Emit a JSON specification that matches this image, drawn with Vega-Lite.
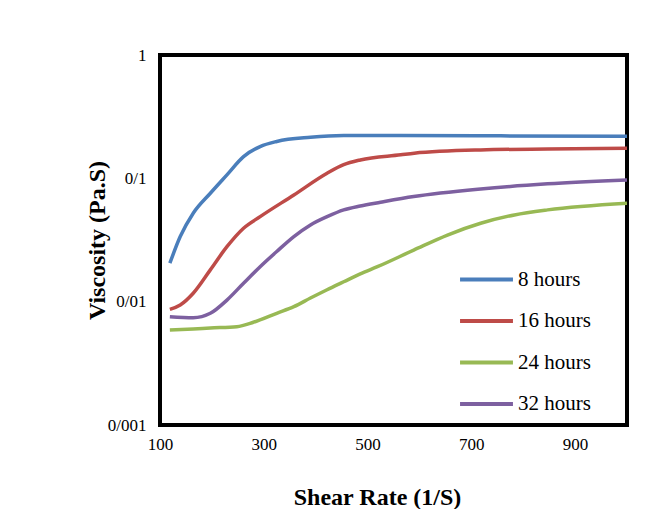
{
  "$schema": "https://vega.github.io/schema/vega-lite/v6.json",
  "autosize": {"type": "none"},
  "width": 467,
  "height": 370,
  "padding": {"left": 160, "top": 55, "right": 21, "bottom": 84},
  "background": "white",
  "config": {
    "view": {"stroke": "black", "strokeWidth": 4},
    "font": "Liberation Serif"
  },
  "data": {
    "values": [
      {"s": 119, "v": 0.0205, "g": "8 hours"},
      {"s": 139, "v": 0.0337, "g": "8 hours"},
      {"s": 164, "v": 0.0521, "g": "8 hours"},
      {"s": 197, "v": 0.0757, "g": "8 hours"},
      {"s": 229, "v": 0.1067, "g": "8 hours"},
      {"s": 261, "v": 0.150, "g": "8 hours"},
      {"s": 293, "v": 0.181, "g": "8 hours"},
      {"s": 325, "v": 0.199, "g": "8 hours"},
      {"s": 390, "v": 0.215, "g": "8 hours"},
      {"s": 454, "v": 0.222, "g": "8 hours"},
      {"s": 564, "v": 0.222, "g": "8 hours"},
      {"s": 757, "v": 0.221, "g": "8 hours"},
      {"s": 1000, "v": 0.219, "g": "8 hours"},

      {"s": 119, "v": 0.00867, "g": "16 hours"},
      {"s": 139, "v": 0.0094, "g": "16 hours"},
      {"s": 164, "v": 0.0117, "g": "16 hours"},
      {"s": 197, "v": 0.0181, "g": "16 hours"},
      {"s": 229, "v": 0.0279, "g": "16 hours"},
      {"s": 261, "v": 0.0394, "g": "16 hours"},
      {"s": 293, "v": 0.0489, "g": "16 hours"},
      {"s": 358, "v": 0.0733, "g": "16 hours"},
      {"s": 422, "v": 0.110, "g": "16 hours"},
      {"s": 454, "v": 0.129, "g": "16 hours"},
      {"s": 486, "v": 0.141, "g": "16 hours"},
      {"s": 564, "v": 0.155, "g": "16 hours"},
      {"s": 590, "v": 0.160, "g": "16 hours"},
      {"s": 718, "v": 0.170, "g": "16 hours"},
      {"s": 847, "v": 0.173, "g": "16 hours"},
      {"s": 1000, "v": 0.175, "g": "16 hours"},

      {"s": 119, "v": 0.00589, "g": "24 hours"},
      {"s": 164, "v": 0.00601, "g": "24 hours"},
      {"s": 197, "v": 0.00612, "g": "24 hours"},
      {"s": 248, "v": 0.00627, "g": "24 hours"},
      {"s": 280, "v": 0.00681, "g": "24 hours"},
      {"s": 325, "v": 0.00805, "g": "24 hours"},
      {"s": 358, "v": 0.0091, "g": "24 hours"},
      {"s": 390, "v": 0.0107, "g": "24 hours"},
      {"s": 422, "v": 0.0125, "g": "24 hours"},
      {"s": 454, "v": 0.0145, "g": "24 hours"},
      {"s": 486, "v": 0.0168, "g": "24 hours"},
      {"s": 519, "v": 0.0192, "g": "24 hours"},
      {"s": 589, "v": 0.0262, "g": "24 hours"},
      {"s": 654, "v": 0.0347, "g": "24 hours"},
      {"s": 718, "v": 0.0432, "g": "24 hours"},
      {"s": 783, "v": 0.0505, "g": "24 hours"},
      {"s": 847, "v": 0.0555, "g": "24 hours"},
      {"s": 1000, "v": 0.0628, "g": "24 hours"},

      {"s": 119, "v": 0.00755, "g": "32 hours"},
      {"s": 164, "v": 0.00741, "g": "32 hours"},
      {"s": 197, "v": 0.00805, "g": "32 hours"},
      {"s": 229, "v": 0.0103, "g": "32 hours"},
      {"s": 261, "v": 0.0141, "g": "32 hours"},
      {"s": 293, "v": 0.0192, "g": "32 hours"},
      {"s": 325, "v": 0.0255, "g": "32 hours"},
      {"s": 358, "v": 0.0337, "g": "32 hours"},
      {"s": 390, "v": 0.0419, "g": "32 hours"},
      {"s": 422, "v": 0.0489, "g": "32 hours"},
      {"s": 454, "v": 0.0555, "g": "32 hours"},
      {"s": 486, "v": 0.0597, "g": "32 hours"},
      {"s": 525, "v": 0.0640, "g": "32 hours"},
      {"s": 589, "v": 0.0712, "g": "32 hours"},
      {"s": 718, "v": 0.0820, "g": "32 hours"},
      {"s": 847, "v": 0.0902, "g": "32 hours"},
      {"s": 1000, "v": 0.0970, "g": "32 hours"}
    ]
  },
  "mark": {"type": "line", "interpolate": "monotone", "strokeWidth": 3.5, "clip": true},
  "encoding": {
    "x": {
      "field": "s", "type": "quantitative",
      "scale": {"domain": [100, 1000], "nice": false, "zero": false},
      "axis": {
        "values": [100, 300, 500, 700, 900],
        "title": "Shear Rate (1/S)",
        "grid": false, "ticks": false, "domain": false,
        "labelFont": "Liberation Serif", "labelFontSize": 17, "labelColor": "black",
        "labelPadding": 11, "labelFlush": false,
        "titleFont": "Liberation Serif", "titleFontSize": 24, "titleFontWeight": "bold", "titleColor": "black",
        "titleX": 217, "titleY": 72, "titleBaseline": "middle", "titleAlign": "center"
      }
    },
    "y": {
      "field": "v", "type": "quantitative",
      "scale": {"type": "log", "domain": [0.001, 1], "nice": false},
      "axis": {
        "values": [0.001, 0.01, 0.1, 1],
        "labelExpr": "replace(format(datum.value, '~f'), '.', '/')",
        "title": "Viscosity (Pa.S)",
        "grid": false, "ticks": false, "domain": false,
        "labelFont": "Liberation Serif", "labelFontSize": 17, "labelColor": "black",
        "labelPadding": 14, "labelFlush": false,
        "titleFont": "Liberation Serif", "titleFontSize": 24, "titleFontWeight": "bold", "titleColor": "black",
        "titleX": -63, "titleY": 185, "titleAngle": -90, "titleBaseline": "middle", "titleAlign": "center"
      }
    },
    "color": {
      "field": "g", "type": "nominal",
      "scale": {
        "domain": ["8 hours", "16 hours", "24 hours", "32 hours"],
        "range": ["#4A7EBB", "#BE4B48", "#98B954", "#7D60A0"]
      },
      "legend": {
        "title": null,
        "orient": "none",
        "legendX": 298,
        "legendY": 196,
        "symbolType": "stroke",
        "symbolSize": 2800,
        "symbolStrokeWidth": 4,
        "labelFont": "Liberation Serif",
        "labelFontSize": 21,
        "labelColor": "black",
        "labelOffset": 3,
        "rowPadding": 2.5
      }
    }
  }
}
